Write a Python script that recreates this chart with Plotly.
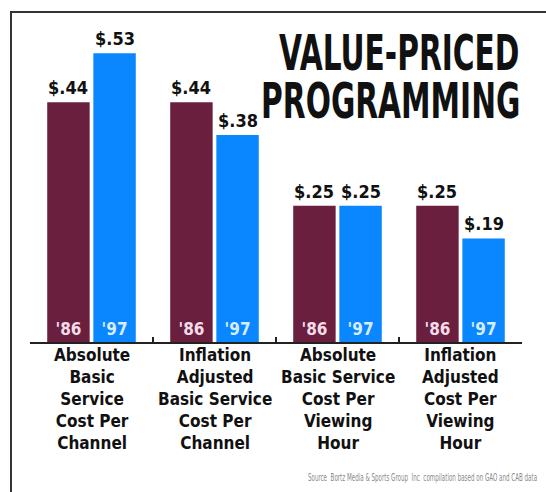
import plotly.graph_objects as go

categories = [
    "Absolute<br>Basic<br>Service<br>Cost Per<br>Channel",
    "Inflation<br>Adjusted<br>Basic Service<br>Cost Per<br>Channel",
    "Absolute<br>Basic Service<br>Cost Per<br>Viewing<br>Hour",
    "Inflation<br>Adjusted<br>Cost Per<br>Viewing<br>Hour",
]
values_86 = [0.44, 0.44, 0.25, 0.25]
values_97 = [0.53, 0.38, 0.25, 0.19]
year_labels = ["'86", "'97"]
title_lines = ["VALUE-PRICED", "PROGRAMMING"]
source_text = "Source  Bortz Media & Sports Group  Inc  compilation based on GAO and CAB data"

MAROON = "#6b1f3f"
BLUE = "#0a86ff"
COND = "DejaVu Sans Condensed, Liberation Sans Narrow, sans-serif"

W, H = 546, 492
L, R, T, B = 30, 24, 15, 150
BARGAP = 0.25

xs = list(range(len(categories)))

fig = go.Figure()
for vals, color, lab, tcol in [
    (values_86, MAROON, year_labels[0], "#f4dce8"),
    (values_97, BLUE, year_labels[1], "#d6ecff"),
]:
    fig.add_trace(go.Bar(
        x=xs, y=vals, marker=dict(color=color, line=dict(width=0)),
        text=[lab] * len(vals), textposition="inside", insidetextanchor="start",
        textangle=0, constraintext="none",
        insidetextfont=dict(family=COND, size=17, color=tcol, weight="bold"),
        hoverinfo="skip", showlegend=False,
    ))

# value labels above bars
off = (1 - BARGAP) / 4
for i in xs:
    for vals, sgn in [(values_86, -1), (values_97, 1)]:
        v = vals[i]
        fig.add_annotation(
            x=i + sgn * off, y=v, xref="x", yref="y", yanchor="bottom",
            text="$" + f"{v:.2f}"[1:], showarrow=False, yshift=2,
            font=dict(family=COND, size=18, color="#111111", weight="bold"),
        )

# category labels
for i, c in enumerate(categories):
    fig.add_annotation(
        x=i, y=-0.004, xref="x", yref="paper", yanchor="top",
        text=c, showarrow=False,
        font=dict(family=COND, size=17, color="#111111", weight="bold"),
    )

# title
plot_h = H - T - B
for line, py in zip(title_lines, [52, 100]):
    fig.add_annotation(
        x=1.0, y=(H - B - py) / plot_h, xref="paper", yref="paper",
        xanchor="right", yanchor="middle", text=line, showarrow=False,
        font=dict(family=COND, size=33, color="#111111", weight="bold"),
    )

# source
plot_w = W - L - R
fig.add_annotation(
    x=(540 - L) / plot_w, y=(H - B - 477) / plot_h, xref="paper", yref="paper",
    xanchor="right", yanchor="middle", text=source_text, showarrow=False,
    font=dict(family=COND, size=10, color="#8a8a8a"),
)

# frame lines
def px(xp):
    return (xp - L) / plot_w

def py_(yp):
    return (H - B - yp) / plot_h

fig.add_shape(type="line", xref="paper", yref="paper",
              x0=px(10), x1=px(546), y0=py_(12), y1=py_(12),
              line=dict(color="#333333", width=2))
fig.add_shape(type="line", xref="paper", yref="paper",
              x0=px(11), x1=px(11), y0=py_(12), y1=py_(492),
              line=dict(color="#333333", width=2))

fig.update_layout(
    width=W, height=H,
    margin=dict(l=L, r=R, t=T, b=B, pad=0),
    barmode="group", bargap=BARGAP, bargroupgap=0.08,
    plot_bgcolor="white", paper_bgcolor="white",
    xaxis=dict(range=[-0.5, 3.5], tickvals=[-0.5, 0.5, 1.5, 2.5, 3.5],
               showticklabels=False, ticks="inside", ticklen=5, tickwidth=1.5,
               tickcolor="#222222", showline=True, linecolor="#222222",
               linewidth=2, showgrid=False, zeroline=False),
    yaxis=dict(range=[0, 0.6], visible=False, showgrid=False, zeroline=False),
)

post = """
document.body.style.margin='0';
document.body.style.overflow='hidden';
function squeeze(){
  document.querySelectorAll('.annotation-text').forEach(function(t){
    var s = t.textContent;
    if (s === 'VALUE-PRICED' || s === 'PROGRAMMING') {
      t.style.transformBox = 'fill-box';
      t.style.transformOrigin = '100% 50%';
      t.style.transform = 'scaleY(1.5)';
    } else if (s.indexOf('Source') === 0) {
      t.style.transformBox = 'fill-box';
      t.style.transformOrigin = '100% 50%';
      t.style.transform = 'scaleX(0.62)';
    }
  });
}
squeeze();
var gdd = document.getElementById('{plot_id}');
if (gdd && gdd.on) { gdd.on('plotly_afterplot', squeeze); }
"""

fig.write_html("out.html", post_script=post, config={"displayModeBar": False})
